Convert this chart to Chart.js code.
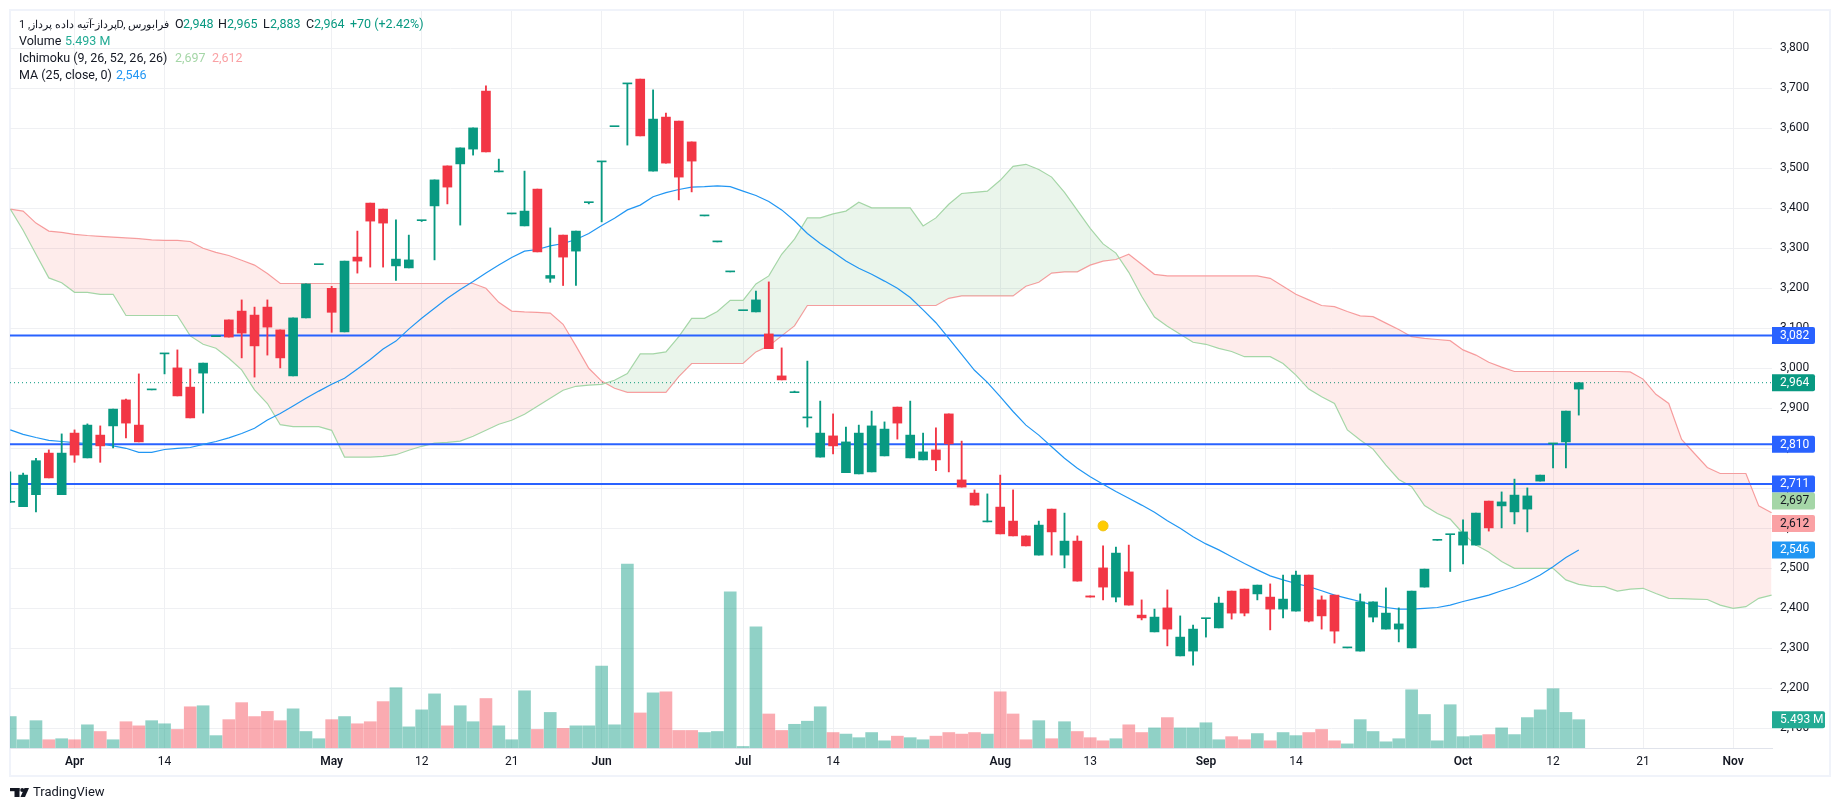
<!DOCTYPE html>
<html>
<head>
<meta charset="utf-8">
<title>Chart</title>
<script src="https://cdn.jsdelivr.net/npm/chart.js@4/dist/chart.umd.min.js"></script>
<style>
  html, body { margin: 0; padding: 0; background: #ffffff; }
  canvas { display: block; }
</style>
</head>
<body>
<canvas id="chart" width="1840" height="811"></canvas>
<script>
// Bars are numbered from the "Apr" tick, the first visible one is -5
const firstBar = -5;

const opens = [2665,2654,2684,2788,2684,
  2838,2776,2833,2856,2921,2858,2946,3036,3001,2953,
  2988,3079,3121,3143,3133,3153,3096,2981,3126,3259,
  3200,3091,3278,3413,3398,3256,3251,3369,3406,3506,
  3511,3548,3693,3491,3386,3356,3448,3225,3333,3293,
  3414,3516,3604,3711,3723,3493,3628,3618,3566,3381,
  3316,3241,3144,3141,3086,2981,2939,2876,2778,2831,
  2739,2736,2741,2781,2903,2776,2771,2796,2886,2721,
  2688,2616,2653,2618,2581,2533,2648,2533,2568,2431,
  2501,2428,2491,2383,2341,2401,2281,2293,2374,2351,
  2443,2448,2436,2428,2398,2393,2483,2421,2433,2301,
  2293,2378,2348,2348,2301,2453,2570,2584,2558,2558,
  2668,2656,2641,2648,2718,2811,2816,2948];

const highs = [2741,2738,2775,2796,2836,
  2846,2861,2856,2898,2923,2986,2947,3037,3046,2998,
  3013,3080,3121,3171,3153,3171,3096,3126,3211,3260,
  3205,3268,3343,3413,3398,3371,3333,3370,3471,3506,
  3551,3601,3706,3523,3387,3493,3448,3351,3333,3343,
  3415,3517,3605,3712,3723,3696,3638,3618,3566,3382,
  3317,3242,3145,3193,3216,3051,2943,3018,2918,2886,
  2853,2858,2893,2866,2903,2918,2838,2851,2886,2818,
  2696,2686,2733,2696,2581,2618,2648,2638,2581,2431,
  2556,2553,2558,2421,2398,2446,2381,2358,2375,2428,
  2443,2448,2458,2461,2483,2493,2483,2431,2433,2302,
  2436,2416,2451,2401,2443,2498,2571,2585,2621,2638,
  2668,2691,2723,2701,2733,2812,2893,2965];

const lows = [2665,2654,2641,2726,2684,
  2765,2776,2765,2801,2826,2816,2946,2986,2931,2876,
  2888,3079,3078,3026,2978,3033,3001,2981,3126,3259,
  3090,3091,3238,3253,3253,3220,3251,3367,3271,3411,
  3358,3533,3541,3491,3386,3356,3291,3215,3207,3207,
  3411,3366,3604,3558,3581,3493,3513,3421,3441,3381,
  3316,3241,3144,3141,3049,2971,2939,2853,2778,2786,
  2739,2736,2741,2781,2823,2776,2771,2744,2741,2703,
  2658,2616,2586,2581,2556,2533,2533,2501,2468,2428,
  2421,2416,2408,2371,2341,2306,2281,2258,2328,2351,
  2373,2381,2421,2346,2376,2393,2366,2348,2313,2301,
  2293,2366,2348,2316,2301,2453,2570,2492,2511,2558,
  2593,2601,2611,2591,2718,2751,2751,2883];

const closes = [2667,2733,2769,2726,2788,
  2783,2858,2806,2898,2863,2816,2947,3037,2931,2876,
  3013,3080,3078,3088,3056,3103,3026,3126,3211,3260,
  3140,3268,3268,3368,3363,3273,3271,3370,3471,3453,
  3551,3601,3541,3492,3387,3393,3291,3232,3278,3343,
  3415,3517,3605,3712,3581,3623,3513,3478,3518,3382,
  3317,3242,3145,3171,3049,2971,2940,2877,2838,2806,
  2816,2838,2856,2848,2863,2833,2791,2771,2811,2703,
  2658,2617,2586,2581,2556,2608,2591,2568,2468,2428,
  2453,2538,2408,2376,2378,2348,2328,2348,2375,2413,
  2388,2388,2458,2398,2423,2483,2368,2381,2343,2302,
  2416,2416,2388,2361,2443,2498,2571,2585,2591,2638,
  2601,2666,2683,2681,2733,2812,2893,2964];

// Volume in millions
const volumes = [6.1,1.6,5.3,1.6,1.8,
  1.6,4.5,3.2,1.6,5.1,4.3,5.3,4.7,3.6,8.0,
  8.2,2.4,5.5,8.8,6.1,7.1,5.3,7.6,3.2,1.8,
  5.5,6.1,4.7,5.1,9.0,11.7,4.1,7.4,10.5,4.3,
  8.2,5.1,9.6,4.3,1.6,11.1,3.6,6.9,3.8,4.3,
  4.3,15.9,4.5,35.7,6.8,10.7,10.9,3.4,3.4,3.0,
  3.2,30.3,0.3,23.5,6.6,3.4,4.6,5.2,8.0,3.0,
  2.7,2.0,3.0,1.4,2.3,2.0,1.6,2.3,3.0,2.7,
  3.0,2.7,10.9,6.6,1.6,5.3,1.8,5.1,3.2,2.0,
  1.4,1.8,4.5,3.0,3.9,5.9,3.9,3.9,4.9,1.6,
  2.2,1.6,2.8,1.4,3.0,2.4,3.0,3.6,1.4,0.8,
  5.5,3.2,1.2,1.8,11.3,6.5,1.4,8.4,2.2,2.4,
  2.6,3.9,2.6,5.9,7.4,11.5,6.9,5.493];

const maLine = [2846,2835,2827,2820,2817,
  2814,2812,2811,2806,2800,2790,2790,2797,2800,2802,
  2810,2817,2826,2837,2850,2871,2887,2906,2925,2943,
  2960,2975,2998,3022,3048,3068,3098,3125,3150,3175,
  3197,3217,3238,3258,3277,3293,3297,3306,3312,3322,
  3337,3357,3375,3396,3408,3429,3439,3447,3453,3454,
  3456,3454,3443,3432,3417,3396,3369,3337,3312,3291,
  3268,3250,3235,3218,3200,3177,3146,3114,3075,3035,
  2995,2965,2929,2892,2858,2833,2804,2775,2750,2729,
  2710,2692,2675,2658,2640,2619,2600,2579,2561,2546,
  2529,2512,2496,2481,2471,2462,2454,2444,2433,2425,
  2417,2408,2402,2398,2398,2400,2402,2408,2417,2425,
  2433,2444,2454,2467,2483,2504,2527,2546];

// Ichimoku cloud edges, they run past the last candle
const spanA = [3398,3345,3285,3226,3214,
  3190,3190,3185,3185,3132,3132,3132,3132,3132,3081,
  3060,3050,3025,2996,2946,2912,2859,2854,2854,2854,
  2845,2778,2778,2778,2780,2784,2795,2805,2813,2815,
  2818,2830,2845,2860,2870,2885,2905,2925,2945,2955,
  2958,2960,2970,2987,3036,3036,3041,3079,3125,3125,
  3142,3170,3170,3211,3231,3285,3323,3376,3376,3386,
  3393,3415,3401,3401,3401,3401,3356,3376,3410,3437,
  3440,3443,3470,3505,3510,3497,3478,3440,3395,3350,
  3311,3288,3240,3180,3128,3105,3085,3065,3060,3050,
  3042,3029,3029,3029,3012,2983,2948,2929,2912,2846,
  2821,2798,2758,2722,2704,2657,2637,2623,2587,2558,
  2541,2517,2500,2500,2500,2500,2471,2460,2455,2454,
  2443,2448,2450,2437,2425,2424,2423,2422,2408,2400,
  2404,2425,2433];

const spanB = [3398,3393,3363,3343,3340,
  3335,3332,3330,3328,3326,3324,3321,3320,3320,3317,
  3300,3290,3282,3270,3258,3237,3212,3212,3212,3212,
  3212,3212,3212,3212,3212,3212,3212,3212,3212,3212,
  3212,3212,3200,3165,3143,3141,3140,3138,3110,3056,
  3000,2968,2950,2940,2940,2940,2940,2979,3012,3012,
  3012,3012,3012,3041,3056,3081,3106,3157,3157,3157,
  3157,3157,3157,3157,3157,3157,3157,3157,3175,3181,
  3181,3181,3181,3181,3205,3215,3238,3241,3241,3258,
  3268,3272,3285,3260,3235,3231,3231,3231,3231,3231,
  3231,3231,3231,3225,3205,3185,3171,3157,3154,3142,
  3131,3129,3113,3097,3079,3075,3072,3069,3046,3033,
  3015,3003,2992,2992,2992,2992,2992,2992,2992,2992,
  2992,2991,2973,2935,2912,2822,2787,2752,2737,2737,
  2737,2656,2639];

const levelLines = [3082, 2810, 2711];
const lastPrice = 2964;
const eventBar = 80;
const eventPrice = 2606;

const priceTicks = [2100,2200,2300,2400,2500,2600,2700,2800,2900,3000,3100,3200,3300,3400,3500,3600,3700,3800];
const dateTickBars = [0,7,20,27,34,41,52,59,72,79,88,95,108,115,122,129];
const dateTickLabels = ['Apr','14','May','12','21','Jun','Jul','14','Aug','13','Sep','14','Oct','12','21','Nov'];
const monthLabels = ['Apr','May','Jun','Jul','Aug','Sep','Oct','Nov'];

const UP = '#089981';
const DOWN = '#f23645';
const UP_VOL = 'rgba(8,153,129,0.45)';
const DOWN_VOL = 'rgba(242,54,69,0.42)';
const BLUE = '#2962ff';
const TEXT = '#131722';
const GRID = '#eff0f3';
const FONT = 'Roboto, "Noto Sans", sans-serif';

// Axis limits, the chart area ends up at x 10-1772 and y 11-748
const xMin = -5.02;
const xMax = 132.03;
const yMin = 2050.75;
const yMax = 3893.25;
const volMax = 143;

const barNo = opens.map((_, k) => k + firstBar);
const isUp = k => closes[k] >= opens[k];
const barColors = opens.map((_, k) => isUp(k) ? UP : DOWN);
const volColors = opens.map((_, k) => isUp(k) ? UP_VOL : DOWN_VOL);

const lineData = values => values.map((v, k) => ({ x: k + firstBar, y: v }));
const levelData = level => [{ x: xMin, y: level }, { x: xMax, y: level }];

const plainLine = (data, color, order, extra) => Object.assign({
  type: 'line',
  data: data,
  borderColor: color,
  borderWidth: 1,
  pointRadius: 0,
  tension: 0,
  fill: false,
  order: order,
  yAxisID: 'y'
}, extra || {});

// Dataset order matters for the fill target below
const datasets = [
  {
    label: 'bodies',
    data: barNo.map((x, k) => ({ x: x, y: [opens[k], closes[k]] })),
    backgroundColor: barColors,
    barThickness: 9,
    minBarLength: 1,
    grouped: false,
    order: 1,
    yAxisID: 'y'
  },
  {
    label: 'wicks',
    data: barNo.map((x, k) => ({ x: x, y: [lows[k], highs[k]] })),
    backgroundColor: barColors,
    barThickness: 1.2,
    grouped: false,
    order: 2,
    yAxisID: 'y'
  },
  plainLine([{ x: eventBar, y: eventPrice }], '#f2c200', 3, {
    showLine: false,
    pointRadius: 5,
    pointBackgroundColor: '#ffcc00',
    pointBorderColor: '#f0c419',
    pointBorderWidth: 1
  }),
  plainLine(lineData(maLine), '#2196f3', 4, { borderWidth: 1.2 }),
  plainLine(lineData(spanA), '#a5d6a7', 6, {
    borderWidth: 1.2,
    fill: { target: 5, above: 'rgba(67,160,71,0.11)', below: 'rgba(244,67,54,0.10)' }
  }),
  plainLine(lineData(spanB), '#faa1a4', 7, { borderWidth: 1.2 }),
  plainLine(levelData(lastPrice), UP, 8, { borderDash: [1, 3] }),
  {
    label: 'volume',
    data: barNo.map((x, k) => ({ x: x, y: volumes[k] })),
    backgroundColor: volColors,
    barThickness: 12,
    grouped: false,
    order: 9,
    yAxisID: 'yVol'
  }
];
levelLines.forEach(level => {
  datasets.push(plainLine(levelData(level), BLUE, 5, { borderWidth: 2 }));
});

// Price tags over the right axis, a tag is pushed down when it would overlap the one above
const priceTags = [
  { value: 3082, text: '3,082', bg: BLUE, color: '#ffffff' },
  { value: 2964, text: '2,964', bg: UP, color: '#ffffff' },
  { value: 2810, text: '2,810', bg: BLUE, color: '#ffffff' },
  { value: 2711, text: '2,711', bg: BLUE, color: '#ffffff' },
  { value: 2697, text: '2,697', bg: '#a5d6a7', color: TEXT },
  { value: 2612, text: '2,612', bg: '#faa1a4', color: TEXT },
  { value: 2546, text: '2,546', bg: '#2196f3', color: '#ffffff' }
];

const drawTag = (ctx, y, width, text, bg, color) => {
  ctx.fillStyle = bg;
  ctx.beginPath();
  ctx.roundRect(1772, y - 8.5, width, 17, [0, 2, 2, 0]);
  ctx.fill();
  ctx.fillStyle = color;
  ctx.font = '12px ' + FONT;
  ctx.textAlign = 'left';
  ctx.textBaseline = 'middle';
  ctx.fillText(text, 1780, y + 0.5);
};

const drawLegend = ctx => {
  const put = (text, x, y, color) => {
    ctx.fillStyle = color;
    ctx.fillText(text, x, y);
  };
  ctx.textAlign = 'left';
  ctx.textBaseline = 'middle';
  ctx.direction = 'ltr';

  ctx.font = '11px ' + FONT;
  put('پرداز-آتیه داده پرداز, 1D, فرابورس', 19, 25, TEXT);

  ctx.font = '12.5px ' + FONT;
  put('O', 175, 25, TEXT);
  put('2,948', 183, 25, UP);
  put('H', 218, 25, TEXT);
  put('2,965', 227, 25, UP);
  put('L', 263, 25, TEXT);
  put('2,883', 270, 25, UP);
  put('C', 306, 25, TEXT);
  put('2,964', 314, 25, UP);
  put('+70 (+2.42%)', 350, 25, UP);

  put('Volume', 19, 42, TEXT);
  put('5.493 M', 65, 42, '#22ab94');

  put('Ichimoku (9, 26, 52, 26, 26)', 19, 59, TEXT);
  put('2,697', 175, 59, '#a5d6a7');
  put('2,612', 212, 59, '#faa1a4');

  put('MA (25, close, 0)', 19, 76, TEXT);
  put('2,546', 116, 76, '#2196f3');
};

const drawLogo = ctx => {
  ctx.fillStyle = TEXT;
  ctx.fillRect(10, 788, 9.5, 3.2);
  ctx.fillRect(14.5, 788, 5, 9);
  ctx.beginPath();
  ctx.arc(22.2, 790, 2, 0, Math.PI * 2);
  ctx.fill();
  ctx.beginPath();
  ctx.moveTo(24.5, 788);
  ctx.lineTo(29, 788);
  ctx.lineTo(25, 797);
  ctx.lineTo(20.5, 797);
  ctx.closePath();
  ctx.fill();
  ctx.font = '13px ' + FONT;
  ctx.textAlign = 'left';
  ctx.textBaseline = 'middle';
  ctx.fillText('TradingView', 33, 793);
};

const overlayPlugin = {
  id: 'overlay',
  beforeDraw: chart => {
    // Frame around the panes
    const ctx = chart.ctx;
    ctx.save();
    ctx.strokeStyle = '#f0f3fa';
    ctx.lineWidth = 2;
    ctx.strokeRect(10, 10, 1820, 766);
    ctx.restore();
  },
  afterDraw: chart => {
    const ctx = chart.ctx;
    const y = chart.scales.y;
    const yVol = chart.scales.yVol;
    ctx.save();

    let lastBottom = -1000;
    priceTags.forEach(tag => {
      let tagY = y.getPixelForValue(tag.value);
      if (tagY - 8.5 < lastBottom) tagY = lastBottom + 8.5;
      drawTag(ctx, tagY, 43, tag.text, tag.bg, tag.color);
      lastBottom = tagY + 8.5;
    });
    drawTag(ctx, yVol.getPixelForValue(volumes[volumes.length - 1]), 53, '5.493 M', '#22ab94', '#ffffff');

    drawLegend(ctx);
    drawLogo(ctx);
    ctx.restore();
  }
};

new Chart(document.getElementById('chart'), {
  type: 'bar',
  data: { datasets: datasets },
  plugins: [overlayPlugin],
  options: {
    responsive: false,
    animation: false,
    layout: { padding: { left: 10, top: 11, right: 10, bottom: 35 } },
    plugins: {
      legend: { display: false },
      tooltip: { enabled: false }
    },
    scales: {
      x: {
        type: 'linear',
        min: xMin,
        max: xMax,
        offset: false,
        afterBuildTicks: axis => { axis.ticks = dateTickBars.map(v => ({ value: v })); },
        afterFit: axis => { axis.height = 28; },
        grid: { color: GRID, offset: false, drawTicks: false },
        border: { color: '#e0e3eb' },
        ticks: {
          autoSkip: false,
          maxRotation: 0,
          padding: 7,
          color: TEXT,
          font: ctx => {
            const label = dateTickLabels[ctx.index];
            return { family: FONT, size: 12, weight: monthLabels.includes(label) ? '600' : '400' };
          },
          callback: (value, index) => dateTickLabels[index]
        }
      },
      y: {
        position: 'right',
        min: yMin,
        max: yMax,
        afterBuildTicks: axis => { axis.ticks = priceTicks.map(v => ({ value: v })); },
        afterFit: axis => {
          axis.width = 58;
          // The tick labels sit well inside, so no extra room is needed above the plot
          axis.paddingTop = 0;
          axis.paddingBottom = 0;
        },
        grid: { color: GRID, drawTicks: false },
        border: { display: false },
        ticks: {
          padding: 8,
          color: TEXT,
          font: { family: FONT, size: 12 },
          callback: value => value.toLocaleString('en-US')
        }
      },
      yVol: {
        display: false,
        position: 'left',
        min: 0,
        max: volMax
      }
    }
  }
});
</script>
</body>
</html>
